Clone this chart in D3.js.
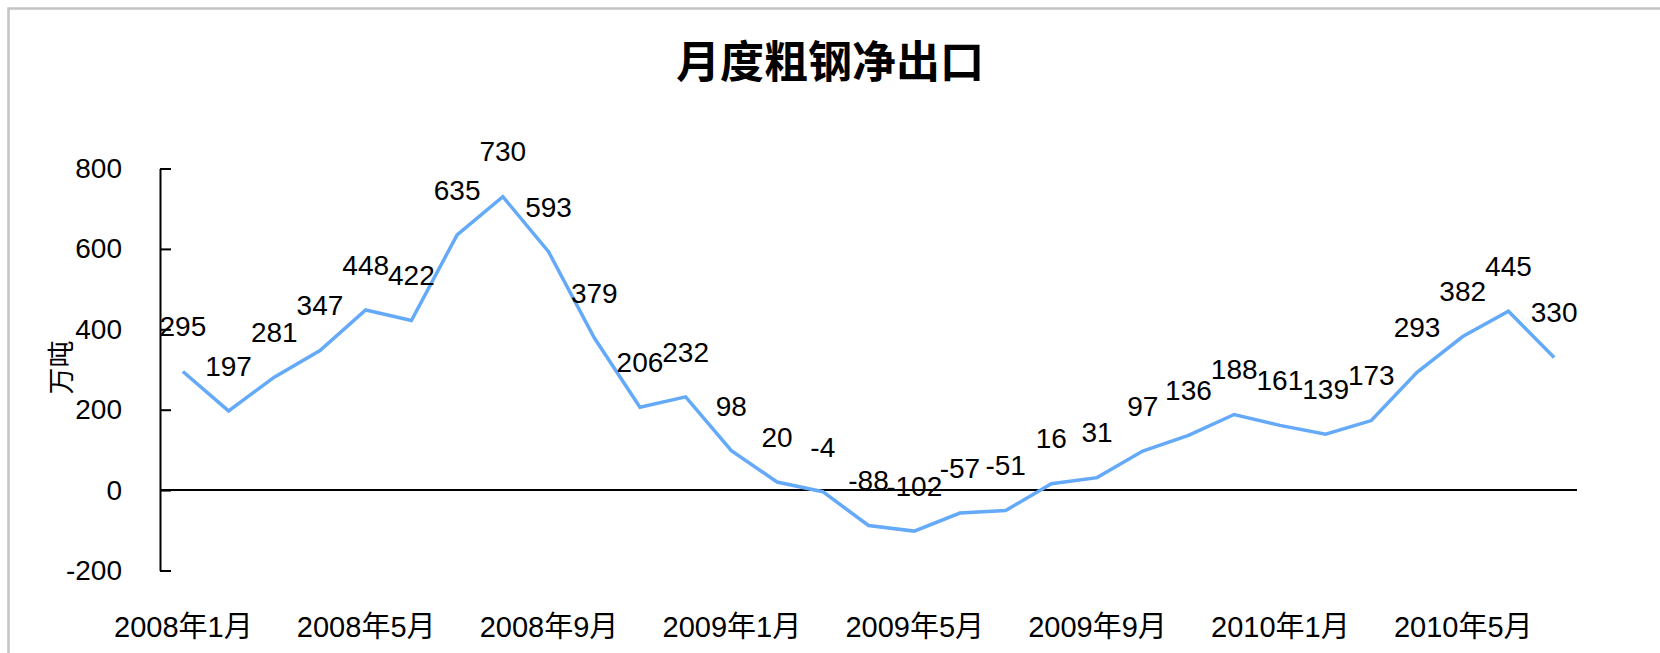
<!DOCTYPE html>
<html>
<head>
<meta charset="utf-8">
<script src="https://cdn.jsdelivr.net/npm/d3@7"></script>
<style>
  body { margin: 0; background: #fff; }
  text { font-family: "Liberation Sans", "Noto Sans CJK SC", sans-serif; fill: #000; }
</style>
</head>
<body>
<svg id="chart" width="1660" height="653"></svg>
<script>
// data: monthly net export of crude steel (万吨), 2008-01 .. 2010-07
const months = [
  "2008年1月","2008年2月","2008年3月","2008年4月","2008年5月","2008年6月",
  "2008年7月","2008年8月","2008年9月","2008年10月","2008年11月","2008年12月",
  "2009年1月","2009年2月","2009年3月","2009年4月","2009年5月","2009年6月",
  "2009年7月","2009年8月","2009年9月","2009年10月","2009年11月","2009年12月",
  "2010年1月","2010年2月","2010年3月","2010年4月","2010年5月","2010年6月","2010年7月"
];
const netExport = [
  295, 197, 281, 347, 448, 422, 635, 730, 593, 379, 206, 232,
  98, 20, -4, -88, -102, -57, -51, 16, 31, 97, 136, 188,
  161, 139, 173, 293, 382, 445, 330
];
const yTicks = [-200, 0, 200, 400, 600, 800];
const xTickLabels = months.filter((d, i) => i % 4 === 0);

const title = "月度粗钢净出口";
const yLabel = "万吨";

// 1 setup
const svg = d3.select("#chart");
const plotLeft = 160, plotRight = 1577, plotTop = 168.5, plotBottom = 570.5;
const data = months.map((m, i) => ({ name: m, value: netExport[i] }));

// frame (cropped on right / bottom in the original)
svg.append("rect")
  .attr("x", 8.5).attr("y", 8.5)
  .attr("width", 1800).attr("height", 800)
  .attr("fill", "none")
  .attr("stroke", "#c4c4c4")
  .attr("stroke-width", 2.5);

// 2 scales
const xScale = d3.scalePoint()
  .domain(months)
  .range([plotLeft, plotRight])
  .padding(0.5);

const yScale = d3.scaleLinear()
  .domain([-200, 800])
  .range([plotBottom, plotTop]);

// 3 axes
const yAxis = d3.axisLeft(yScale)
  .tickValues(yTicks)
  .tickFormat(d => String(d))   // plain hyphen like the original
  .tickSizeInner(-11)
  .tickSizeOuter(0)
  .tickPadding(38);

const gy = svg.append("g")
  .attr("transform", `translate(${plotLeft},0)`)
  .call(yAxis);
gy.selectAll("path, line").attr("stroke", "#000").attr("stroke-width", 2);
gy.selectAll("text").attr("font-size", 28).attr("fill", "#000")
  .style("font-family", '"Liberation Sans", sans-serif');

const xAxis = d3.axisBottom(xScale)
  .tickValues(xTickLabels)
  .tickSize(0)
  .tickPadding(46);

const gx = svg.append("g")
  .attr("transform", `translate(0,${plotBottom})`)
  .call(xAxis);
gx.select(".domain").remove();
gx.selectAll("text").attr("font-size", 29).attr("fill", "#000")
  .style("font-family", '"Liberation Sans", "Noto Sans CJK SC", sans-serif');

// zero line
svg.append("line")
  .attr("x1", plotLeft).attr("x2", plotRight)
  .attr("y1", yScale(0)).attr("y2", yScale(0))
  .attr("stroke", "#000")
  .attr("stroke-width", 2);

// 4 line
const line = d3.line()
  .x(d => xScale(d.name))
  .y(d => yScale(d.value));

svg.append("path")
  .datum(data)
  .attr("d", line)
  .attr("fill", "none")
  .attr("stroke", "#64aaf8")
  .attr("stroke-width", 3.5)
  .attr("stroke-linejoin", "miter");

// 5 data labels
svg.append("g")
  .selectAll("text")
  .data(data)
  .join("text")
  .attr("x", d => xScale(d.name))
  .attr("y", d => yScale(d.value) - 45)
  .attr("dy", "0.35em")
  .attr("text-anchor", "middle")
  .attr("font-size", 28)
  .text(d => d.value);

// 6 titles
svg.append("text")
  .attr("x", 830).attr("y", 78)
  .attr("text-anchor", "middle")
  .attr("font-size", 44)
  .attr("font-weight", "bold")
  .style("font-family", '"Noto Sans CJK SC", sans-serif')
  .text(title);

svg.append("text")
  .attr("transform", "translate(62,367.5) rotate(-90)")
  .attr("text-anchor", "middle")
  .attr("dy", "0.35em")
  .attr("font-size", 27)
  .style("font-family", '"Noto Sans CJK SC", sans-serif')
  .text(yLabel);
</script>
</body>
</html>
